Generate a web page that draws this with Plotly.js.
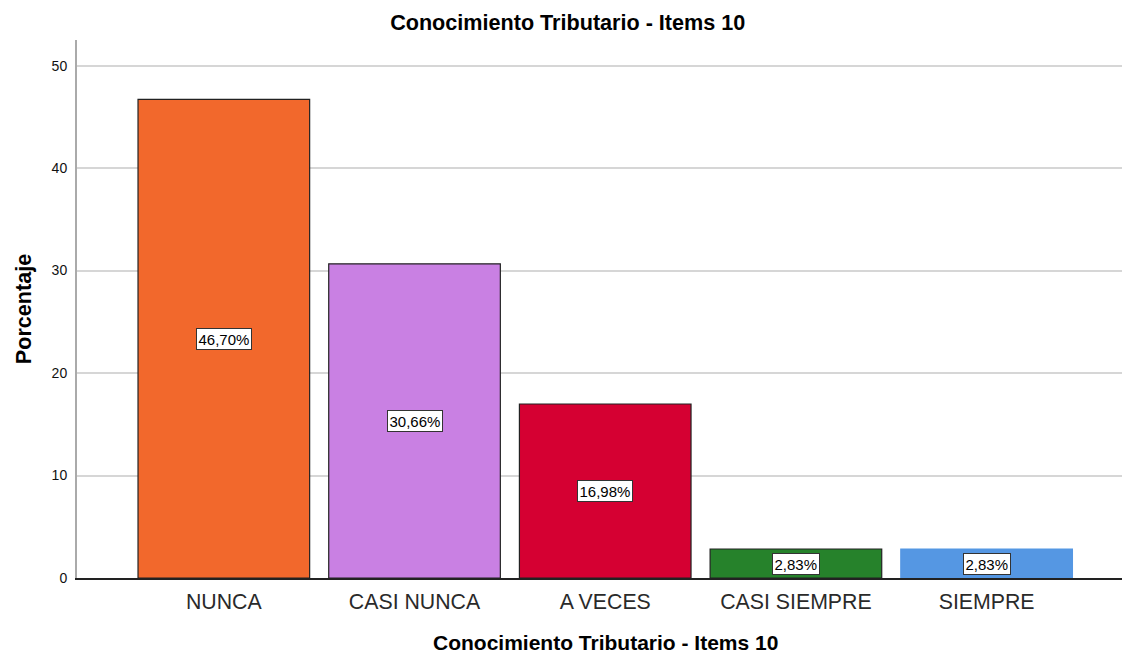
<!DOCTYPE html>
<html>
<head>
<meta charset="utf-8">
<script src="https://cdn.plot.ly/plotly-3.0.1.min.js"></script>
<style>html,body{margin:0;padding:0;background:#fff;}#chart{width:1122px;height:654px;}</style>
</head>
<body>
<div id="chart"></div>
<script>
const categories = ["NUNCA", "CASI NUNCA", "A VECES", "CASI SIEMPRE", "SIEMPRE"];
const percentages = [46.70, 30.66, 16.98, 2.83, 2.83];
const barColors = ["#F2682C", "#C980E3", "#D50032", "#26822B", "#5597E3"];
const outlineColors = ["#222222", "#222222", "#222222", "#222222", "#5597E3"];
const yTicks = [0, 10, 20, 30, 40, 50];
const chartTitle = "Conocimiento Tributario - Items 10";
const xTitle = "Conocimiento Tributario - Items 10";
const yTitle = "Porcentaje";

const FONT = 'Liberation Sans, Arial, sans-serif';
const fmt = v => v.toFixed(2).replace('.', ',') + '%';

const trace = {
  type: 'bar',
  x: categories,
  y: percentages,
  width: 0.9,
  marker: {color: barColors, line: {color: outlineColors, width: 1.2}},
  hoverinfo: 'skip'
};

const annotations = categories.map((c, i) => ({
  x: c, y: percentages[i] / 2, xref: 'x', yref: 'y',
  text: fmt(percentages[i]), showarrow: false,
  font: {family: FONT, size: 15, color: '#000'},
  bgcolor: '#ffffff', bordercolor: '#333333', borderwidth: 1, borderpad: 1.5
}));

annotations.push({
  text: '<b>' + xTitle + '</b>',
  xref: 'paper', yref: 'paper', x: 0.5062, y: 0,
  xanchor: 'center', yanchor: 'top', yshift: -51,
  showarrow: false,
  font: {family: FONT, size: 21, color: '#000'}
});

const layout = {
  width: 1122, height: 654,
  margin: {l: 77, r: 0, t: 40, b: 76},
  paper_bgcolor: '#fff', plot_bgcolor: '#fff',
  showlegend: false,
  title: {
    text: '<b>' + chartTitle + '</b>',
    x: 0.506, xref: 'container', xanchor: 'center',
    y: 0.966, yref: 'container', yanchor: 'middle',
    font: {family: FONT, size: 21.6, color: '#000'}
  },
  xaxis: {
    type: 'category',
    range: [-0.77, 4.71],
    showgrid: false,
    showline: true, linecolor: '#222', linewidth: 1.5,
    ticks: 'outside', ticklen: 4, tickcolor: 'rgba(0,0,0,0)',
    tickfont: {family: FONT, size: 21.3, color: '#2a2a2a'},
    zeroline: false
  },
  yaxis: {
    range: [0, 52.5],
    tickvals: yTicks,
    ticktext: yTicks.map(String),
    showgrid: true, gridcolor: '#d6d6d6', gridwidth: 2,
    showline: true, linecolor: '#aaaaaa', linewidth: 2,
    ticks: 'outside', ticklen: 5, tickcolor: 'rgba(0,0,0,0)',
    tickfont: {family: FONT, size: 14, color: '#111'},
    title: {
      text: '<b>' + yTitle + '</b>',
      font: {family: FONT, size: 21.6, color: '#000'},
      standoff: 14
    },
    zeroline: false
  },
  annotations: annotations,
  bargap: 0.1
};

Plotly.newPlot('chart', [trace], layout, {displayModeBar: false, staticPlot: true});
</script>
</body>
</html>
